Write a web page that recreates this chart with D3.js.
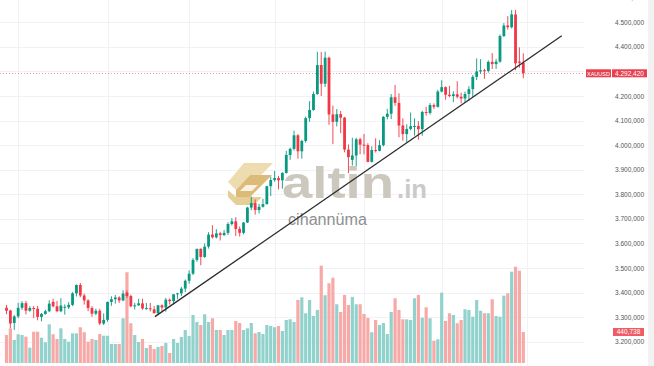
<!DOCTYPE html>
<html><head><meta charset="utf-8">
<script src="https://cdn.jsdelivr.net/npm/d3@7"></script>
<style>html,body{margin:0;padding:0;background:#fff;overflow:hidden}</style>
</head><body>
<svg id="c" width="654" height="366"></svg>
<script>
const opens=[3338,3327,3276,3303,3338,3357,3326,3337,3334,3301,3313,3324,3362,3344,3324,3338,3340,3350,3397,3431,3388,3368,3337,3314,3326,3274,3289,3362,3373,3380,3368,3400,3386,3344,3348,3356,3335,3336,3332,3316,3348,3339,3371,3365,3393,3397,3416,3448,3477,3533,3578,3545,3587,3636,3625,3641,3634,3643,3679,3690,3659,3643,3685,3746,3764,3736,3749,3760,3833,3858,3866,3857,3887,3960,3985,4040,3975,4017,4110,4143,4208,4326,4250,4356,4125,4095,4126,4112,3982,3940,3958,4024,4002,4000,3932,3980,3977,4000,4115,4128,4195,4172,4080,4045,4066,4077,4078,4065,4135,4131,4163,4156,4218,4236,4205,4200,4207,4197,4190,4208,4228,4278,4300,4305,4302,4339,4330,4340,4444,4487,4480,4532,4340,4335];
const highs=[3350,3330,3308,3358,3365,3366,3345,3345,3346,3317,3330,3369,3375,3366,3377,3352,3361,3402,3433,3439,3396,3373,3345,3334,3334,3315,3363,3385,3390,3385,3409,3409,3392,3358,3375,3375,3358,3358,3345,3350,3352,3378,3376,3393,3399,3423,3453,3490,3540,3578,3580,3600,3646,3674,3658,3647,3655,3686,3703,3707,3669,3687,3749,3791,3779,3761,3782,3835,3872,3895,3875,3890,3977,3990,4059,4045,4022,4116,4179,4218,4380,4379,4381,4360,4161,4147,4139,4115,4003,4030,4030,4030,4046,4008,3995,4028,4020,4118,4148,4208,4245,4211,4109,4085,4133,4109,4098,4140,4156,4171,4170,4225,4264,4239,4241,4219,4260,4214,4218,4240,4285,4353,4350,4311,4345,4375,4350,4450,4497,4525,4550,4550,4398,4374];
const lows=[3312,3255,3248,3296,3329,3311,3322,3296,3287,3283,3310,3320,3340,3320,3320,3310,3333,3345,3384,3381,3351,3324,3301,3308,3268,3268,3281,3346,3355,3358,3365,3378,3340,3331,3346,3330,3330,3323,3315,3311,3324,3322,3351,3352,3373,3386,3402,3436,3471,3525,3511,3541,3579,3620,3620,3612,3630,3634,3673,3630,3628,3637,3683,3735,3717,3722,3746,3758,3793,3851,3820,3823,3884,3940,3978,3945,3945,4010,4095,4140,4205,4200,4237,4083,4004,4076,4049,3971,3886,3917,3915,3963,3962,3930,3930,3970,3975,3995,4105,4106,4160,4032,4018,4010,4060,4039,4022,4038,4120,4124,4147,4153,4215,4185,4195,4175,4190,4170,4172,4180,4195,4265,4290,4270,4295,4310,4310,4335,4440,4470,4475,4305,4315,4272];
const closes=[3326,3274,3303,3338,3357,3326,3337,3334,3301,3313,3324,3355,3344,3324,3347,3342,3350,3397,3431,3388,3368,3337,3314,3326,3274,3289,3362,3373,3380,3368,3396,3386,3344,3348,3356,3335,3337,3332,3316,3348,3339,3371,3365,3393,3397,3416,3448,3477,3533,3578,3545,3587,3636,3625,3641,3634,3643,3679,3690,3659,3643,3685,3746,3764,3736,3749,3760,3833,3858,3866,3857,3887,3960,3985,4040,3975,4017,4110,4143,4208,4326,4250,4356,4125,4095,4126,4112,3982,3951,3958,4024,4002,4000,3932,3980,3977,4000,4115,4128,4195,4172,4080,4045,4066,4077,4078,4065,4135,4131,4163,4156,4218,4236,4205,4200,4207,4197,4190,4208,4228,4278,4300,4305,4302,4339,4330,4340,4444,4487,4480,4532,4333,4335,4292.42];
const volumes=[398,493,327,408,398,374,218,445,445,360,294,550,408,341,493,341,303,422,422,508,437,303,341,327,412,388,388,270,270,270,636,1290,565,398,299,341,213,256,199,228,242,284,142,341,284,370,469,384,683,583,540,693,583,636,469,469,398,469,469,597,569,469,493,569,422,441,412,540,526,508,526,455,611,621,583,896,934,707,896,668,754,1384,963,1133,1213,835,725,967,825,939,835,835,697,640,437,611,540,569,412,725,920,754,621,621,611,920,967,644,792,636,317,337,1000,597,707,683,565,611,764,754,658,896,744,707,707,906,668,658,957,991,1298,1369,1312,440.738];
const priceTicks=[3200,3300,3400,3500,3600,3700,3800,3900,4000,4100,4200,4300,4400,4500,4600];
const monthStarts=[3,26,47,69,92,112,134];
const trendLine=[{i:38.2,p:3302},{i:142.9,p:4445}];
const symbol="XAUUSD";
const lastPrice=4292.42;
const lastVolumeText="440,738";

const W=654,H=366, plotRight=584;
const svg=d3.select("#c");
const N=closes.length;
const x=d3.scaleLinear().domain([0,N-1]).range([6.5,523.3]);
const y=d3.scaleLinear().domain([3200,4500]).range([341.7,22.3]);
const yv=d3.scaleLinear().domain([0,1400]).range([363,264.5]);
const tr=d3.formatLocale({decimal:",",thousands:".",grouping:[3],currency:["",""]});
const fmt=tr.format(",.3f");
const up="#089981", dn="#f23645", upV="#92d2cc", dnV="#f7a9a7";
const FONT="Liberation Sans, Arial, sans-serif";

// grid
const g=svg.append("g");
g.selectAll("line.h").data(priceTicks).join("line")
 .attr("x1",0).attr("x2",plotRight).attr("y1",d=>Math.round(y(d))+0.5).attr("y2",d=>Math.round(y(d))+0.5)
 .attr("stroke","#f0f2f5").attr("stroke-width",1);
g.selectAll("line.v").data(monthStarts).join("line")
 .attr("y1",0).attr("y2",H).attr("x1",d=>Math.round(x(d))+0.5).attr("x2",d=>Math.round(x(d))+0.5)
 .attr("stroke","#f0f2f5").attr("stroke-width",1);

// watermark
const wm=svg.append("g");
wm.append("polygon").attr("points","244,163 273,163 261,175 250,175 236,190 228,182").attr("fill","#ecdcaf");
wm.append("polygon").attr("points","250,175 272,175 250,197 236,197 236,190").attr("fill","#dcbb78");
wm.append("polygon").attr("points","236,197 262,197 254,205 236,205 228,197 228,190").attr("fill","#e6cf96");
wm.append("polygon").attr("points","246,185 258,185 252,191 240,191").attr("fill","#fff").attr("opacity",0.8);
wm.append("text").attr("x",282).attr("y",198).attr("font-family",FONT).attr("font-weight","bold")
 .attr("font-size",44).attr("fill","#cdc8be").attr("textLength",112).attr("lengthAdjust","spacingAndGlyphs").text("altin");
wm.append("text").attr("x",397).attr("y",198).attr("font-family",FONT).attr("font-weight","bold")
 .attr("font-size",25).attr("fill","#cacaca").attr("textLength",30).attr("lengthAdjust","spacingAndGlyphs").text(".in");
wm.append("text").attr("x",288).attr("y",225).attr("font-family",FONT)
 .attr("font-size",16).attr("fill","#8f8f8f").attr("textLength",79).attr("lengthAdjust","spacingAndGlyphs").text("cihannüma");

const idx=d3.range(N);
// volume
svg.append("g").selectAll("rect").data(idx).join("rect")
 .attr("x",i=>x(i)-1.6).attr("width",3.2)
 .attr("y",i=>yv(volumes[i])).attr("height",i=>yv(0)-yv(volumes[i]))
 .attr("fill",i=>closes[i]>=opens[i]?upV:dnV);

// last price dotted line
svg.append("line").attr("x1",0).attr("x2",plotRight).attr("y1",Math.round(y(lastPrice))+0.5).attr("y2",Math.round(y(lastPrice))+0.5)
 .attr("stroke","#f2a0a8").attr("stroke-dasharray","1,2").attr("stroke-width",1);

// candles
const cg=svg.append("g");
cg.selectAll("line").data(idx).join("line")
 .attr("x1",i=>x(i)).attr("x2",i=>x(i)).attr("y1",i=>y(highs[i])).attr("y2",i=>y(lows[i]))
 .attr("stroke",i=>closes[i]>=opens[i]?up:dn).attr("stroke-width",0.9);
cg.selectAll("rect").data(idx).join("rect")
 .attr("x",i=>x(i)-1.4).attr("width",2.8)
 .attr("y",i=>y(Math.max(opens[i],closes[i])))
 .attr("height",i=>Math.max(1,Math.abs(y(opens[i])-y(closes[i]))))
 .attr("fill",i=>closes[i]>=opens[i]?up:dn);

// trend line
svg.append("line").attr("x1",x(trendLine[0].i)).attr("y1",y(trendLine[0].p))
 .attr("x2",x(trendLine[1].i)).attr("y2",y(trendLine[1].p))
 .attr("stroke","#2b2b2b").attr("stroke-width",1.3);

// price axis (labels hidden where the last-price tag covers them)
const py=y(lastPrice);
const labelTicks=priceTicks.filter(t=>Math.abs(y(t)-py)>8);
const ax=svg.append("g").attr("transform",`translate(644,0)`);
ax.call(d3.axisRight(y).tickValues(labelTicks).tickFormat(fmt).tickSize(0).tickPadding(0));
ax.select(".domain").remove();
ax.selectAll("text").attr("text-anchor","end").attr("font-family",FONT)
 .attr("font-size",6.5).attr("fill","#555");

// right frame strip
svg.append("rect").attr("x",648).attr("y",0).attr("width",6).attr("height",H).attr("fill","#f2f2f2");

// price labels
svg.append("rect").attr("x",586).attr("y",py-4).attr("width",25).attr("height",8).attr("fill","#e8404f");
svg.append("text").attr("x",598.5).attr("y",py+2.2).attr("text-anchor","middle").attr("font-family",FONT)
 .attr("font-size",5.5).attr("fill","#fff").text(symbol);
svg.append("rect").attr("x",612).attr("y",py-4).attr("width",35).attr("height",8).attr("fill","#e8404f");
svg.append("text").attr("x",629.5).attr("y",py+2.3).attr("text-anchor","middle").attr("font-family",FONT)
 .attr("font-size",6.5).attr("fill","#fff").text(fmt(lastPrice));
const vy=yv(volumes[N-1]);
svg.append("rect").attr("x",613).attr("y",vy-4).attr("width",31).attr("height",8).attr("fill","#ee5c66");
svg.append("text").attr("x",628.5).attr("y",vy+2.3).attr("text-anchor","middle").attr("font-family",FONT)
 .attr("font-size",6.5).attr("fill","#fff").text(lastVolumeText);
</script>
</body></html>
